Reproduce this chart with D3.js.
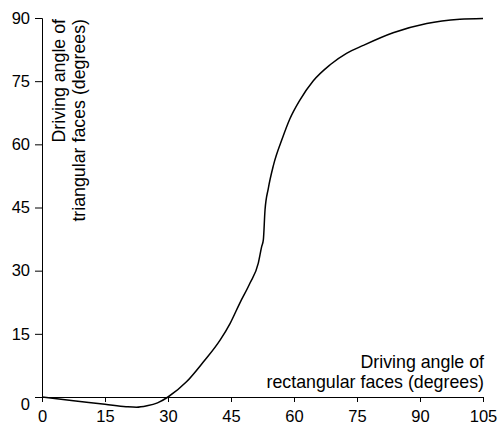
<!DOCTYPE html>
<html>
<head>
<meta charset="utf-8">
<script src="https://cdn.jsdelivr.net/npm/d3@7"></script>
<style>
  body { margin: 0; background: #fff; }
  text { font-family: "Liberation Sans", Arial, sans-serif; }
</style>
</head>
<body>
<div id="wrapper"></div>
<script>
// 1. Data
const rectAngle = [0, 7.5, 15, 20, 22.5, 25, 27.5, 30, 34.4, 38.4, 42.4, 44.8, 47.1, 49.5, 51.5, 52.3, 52.7,
    53.1, 53.9, 55.1, 57.3, 59.0, 61.4, 64.6, 68.6, 72.5, 76.5, 83.6, 91.6, 99.5, 105]
const triAngle = [0, -0.9, -1.7, -2.3, -2.45, -2.1, -1.4, 0, 3.6, 8.3, 13.5, 17.5, 22.3, 27.0, 31.8, 35.7, 37.3,
    44.4, 49.6, 55.0, 61.6, 66.0, 70.5, 75.1, 78.9, 81.6, 83.5, 86.5, 88.7, 89.7, 89.9]
const xTicks = [0, 15, 30, 45, 60, 75, 90, 105]
const yTicks = [0, 15, 30, 45, 60, 75, 90]

const dataset = rectAngle.map((x, i) => ({ x, y: triAngle[i] }))

// 2. Dimensions
let dimensions = {
    width: 500,
    height: 428,
    margin: { top: 18, right: 17, bottom: 31, left: 42 },
}
dimensions.boundedWidth = dimensions.width - dimensions.margin.left - dimensions.margin.right
dimensions.boundedHeight = dimensions.height - dimensions.margin.top - dimensions.margin.bottom

// 3. Canvas
const wrapper = d3.select("#wrapper")
    .append("svg")
    .attr("width", dimensions.width)
    .attr("height", dimensions.height)

const bounds = wrapper.append("g")
    .attr("transform", `translate(${dimensions.margin.left},${dimensions.margin.top})`)

// 4. Scales
const xScale = d3.scaleLinear()
    .domain([0, 105])
    .range([0, dimensions.boundedWidth])

const yScale = d3.scaleLinear()
    .domain([0, 90])
    .range([dimensions.boundedHeight, 0])

// 5. Axes
const xAxis = bounds.append("g")
    .attr("transform", `translate(0,${dimensions.boundedHeight})`)
    .call(d3.axisBottom(xScale).tickValues(xTicks).tickSize(5).tickPadding(8))
xAxis.selectAll("text").style("font-size", "16.5px").attr("fill", "#000")

const yAxis = bounds.append("g")
    .call(d3.axisLeft(yScale).tickValues(yTicks).tickSize(7).tickPadding(5))
yAxis.selectAll("text").style("font-size", "16.5px").attr("fill", "#000")
// the 0 label sits a little below its tick so it clears the x axis labels
yAxis.selectAll(".tick").filter(d => d === 0).select("text").attr("dy", "0.77em")

bounds.selectAll(".domain, .tick line").attr("stroke", "#000")

// 6. Line
const line = d3.line()
    .x(d => xScale(d.x))
    .y(d => yScale(d.y))
    .curve(d3.curveMonotoneX)

bounds.append("path")
    .datum(dataset)
    .attr("fill", "none")
    .attr("stroke", "#000")
    .attr("stroke-width", 1.5)
    .attr("d", line)

// 7. Axis labels
const xLabel = bounds.append("text")
    .attr("text-anchor", "end")
    .style("font-size", "17.8px")
    .attr("fill", "#000")
xLabel.append("tspan").attr("x", dimensions.boundedWidth + 1).attr("y", dimensions.boundedHeight - 29).text("Driving angle of")
xLabel.append("tspan").attr("x", dimensions.boundedWidth + 1).attr("y", dimensions.boundedHeight - 9).text("rectangular faces (degrees)")

const yLabel = bounds.append("text")
    .attr("transform", "rotate(-90)")
    .attr("text-anchor", "end")
    .style("font-size", "17.8px")
    .attr("fill", "#000")
yLabel.append("tspan").attr("x", -1).attr("y", 23).text("Driving angle of")
yLabel.append("tspan").attr("x", -1).attr("y", 43).text("triangular faces (degrees)")
</script>
</body>
</html>
